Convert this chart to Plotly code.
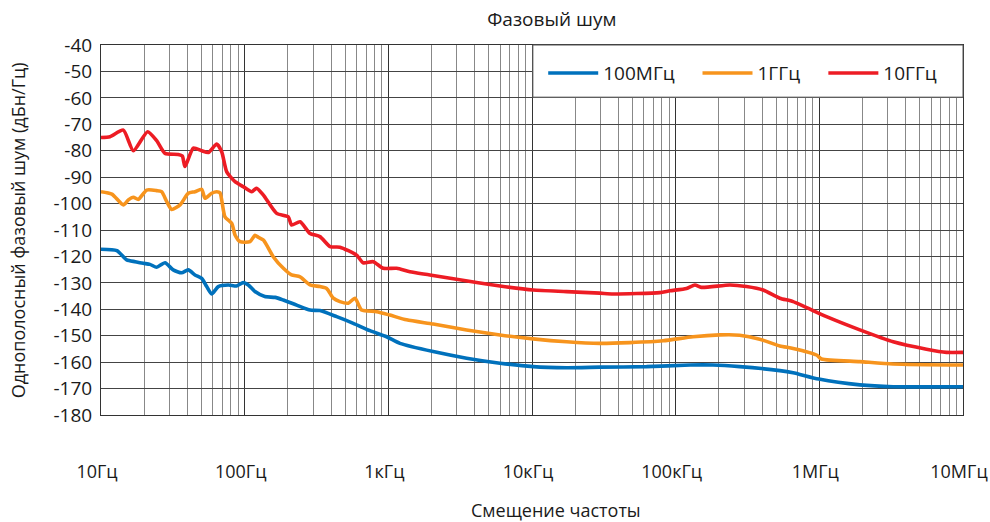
import plotly.graph_objects as go

# ---- data (frequency offset in Hz, SSB phase noise in dBc/Hz) ----
freq_100m = [10, 12.9, 15.1, 17.3, 19.7, 21.9, 24.4, 27.9, 31.8, 36.4, 40.5, 45.1, 50.2, 54.4, 58.9,
             65.5, 76.9, 87.9, 97.8, 106, 118, 138, 163, 186, 230, 285, 334, 437, 570, 745, 973,
             1205, 2052, 3506, 5984, 10190, 17400, 29700, 62700, 126000, 182000, 279000, 531000,
             657000, 991000, 1914000, 3266000, 10000000]
pn_100m = [-117.3, -117.8, -121.3, -122.0, -122.6, -123.0, -124.1, -122.4, -125.1, -126.2, -125.1,
           -127.0, -128.3, -131.4, -134.2, -131.4, -130.8, -131.2, -129.9, -130.8, -133.3, -135.2,
           -135.5, -136.5, -138.4, -140.3, -140.5, -142.8, -145.3, -148.1, -150.4, -152.9, -156.0,
           -158.5, -160.4, -161.7, -162.1, -161.9, -161.7, -161.1, -161.1, -161.7, -163.2, -164.0,
           -166.4, -168.6, -169.3, -169.3]

freq_1g = [10, 11.9, 14.3, 15.5, 16.8, 18.2, 20.8, 24.4, 26.4, 28.7, 31.0, 35.5, 40.5, 45.1, 50.2,
           53.0, 58.9, 63.9, 67.3, 72.9, 81.3, 85.7, 92.7, 109, 118, 124, 135, 158, 186, 212, 243,
           285, 334, 372, 414, 460, 526, 586, 652, 829, 1026, 1340, 2052, 3506, 5984, 10190, 17400,
           29700, 48000, 81800, 132000, 203000, 279000, 385000, 531000, 657000, 957000, 1036000,
           1914000, 3266000, 10000000]
pn_1g = [-95.5, -96.4, -100.5, -98.6, -97.6, -98.4, -94.9, -95.1, -95.5, -99.3, -102.2, -100.5,
         -96.1, -95.5, -94.6, -98.0, -96.1, -95.5, -95.9, -105.0, -107.5, -111.9, -114.4, -114.4,
         -112.0, -112.7, -113.8, -120.1, -124.5, -127.0, -127.7, -130.8, -131.4, -132.1, -135.8,
         -137.1, -137.7, -135.8, -140.3, -140.9, -142.2, -144.0, -145.6, -147.8, -149.7, -151.2,
         -152.3, -152.9, -152.6, -151.9, -150.4, -149.7, -149.8, -151.3, -153.9, -154.8, -157.3,
         -158.8, -159.8, -160.7, -161.1]

freq_10g = [10, 11.55, 14.3, 16.8, 21.1, 24.4, 27.9, 34.5, 36.8, 38.4, 43.9, 50.2, 55.8, 63.9, 69.2,
            75, 85.7, 97.8, 112, 121, 135, 167, 201, 212, 243, 285, 334, 393, 460, 601, 668, 785,
            922, 1143, 1413, 1947, 4117, 5984, 10190, 17400, 29700, 36700, 77600, 91200, 119000,
            136000, 151000, 239000, 311000, 406000, 531000, 657000, 1122000, 1914000, 3266000,
            5572000, 7674000, 10000000]
pn_10g = [-75.0, -74.7, -72.2, -80.0, -72.8, -76.2, -81.0, -81.4, -82.0, -86.0, -79.0, -80.0, -80.7,
          -77.5, -80.4, -88.0, -91.7, -93.6, -95.5, -94.2, -96.8, -103.7, -105.0, -108.1, -106.9,
          -111.3, -112.5, -116.3, -116.5, -119.5, -122.4, -122.0, -124.5, -124.5, -125.8, -127.0,
          -129.9, -131.2, -132.7, -133.3, -133.9, -134.2, -133.7, -133.0, -132.1, -130.8, -131.7,
          -130.8, -131.4, -132.7, -135.8, -137.1, -142.8, -147.8, -152.3, -155.1, -156.3, -156.3]

series_names = ["100МГц", "1ГГц", "10ГГц"]
series_colors = ["#0071BC", "#F7941D", "#ED1C24"]

x_tickvals = [10, 100, 1000, 10000, 100000, 1000000, 10000000]
x_ticktext = ["10Гц", "100Гц", "1кГц", "10кГц", "100кГц", "1МГц", "10МГц"]
y_tickvals = [-40, -50, -60, -70, -80, -90, -100, -110, -120, -130, -140, -150, -160, -170, -180]
y_ticktext = ["-40", "-50", "-60", "-70", "-80", "-90", "-100", "-110", "-120", "-130", "-140",
              "-150", "-160", "-170", "-180"]

title_text = "Фазовый шум"
x_title = "Смещение частоты"
y_title = "Однополосный фазовый шум (дБн/Гц)"

FONT = "Open Sans"
TXT = "#1a1a1a"

# legend layout (paper coordinates)
legend_x = [0.513, 0.692, 0.838]
legend_ids = ["legend", "legend2", "legend3"]

fig = go.Figure()
for xs, ys, name, col, lid in zip([freq_100m, freq_1g, freq_10g], [pn_100m, pn_1g, pn_10g],
                                  series_names, series_colors, legend_ids):
    fig.add_trace(go.Scatter(x=xs, y=ys, mode="lines", name=name, legend=lid,
                             line=dict(color=col, width=3.6, shape="spline", smoothing=0.6)))

legend_common = dict(orientation="h", xanchor="left", y=0.924, yanchor="middle",
                     bgcolor="rgba(0,0,0,0)", borderwidth=0, itemwidth=50,
                     font=dict(family=FONT, size=19, color=TXT))

fig.update_layout(
    width=990, height=522,
    margin=dict(l=101, r=27, t=45, b=107, autoexpand=False),
    paper_bgcolor="white", plot_bgcolor="white",
    font=dict(family=FONT, size=19, color=TXT),
    title=dict(text=title_text, x=0.523, xref="paper", xanchor="center",
               y=1, yref="container", yanchor="top", pad=dict(t=13),
               font=dict(family=FONT, size=19, color=TXT)),
    showlegend=True,
    legend=dict(x=legend_x[0], **legend_common),
    legend2=dict(x=legend_x[1], **legend_common),
    legend3=dict(x=legend_x[2], **legend_common),
    shapes=[dict(type="rect", xref="paper", yref="paper", x0=0.501, x1=1.0, y0=0.859, y1=1.0,
                 fillcolor="white", line=dict(color="#555", width=1), layer="above")],
    annotations=[
        dict(text=x_title, xref="paper", yref="paper", x=0.528, y=-0.257,
             xanchor="center", yanchor="middle", showarrow=False,
             font=dict(family=FONT, size=18, color=TXT)),
        dict(text=y_title, xref="paper", yref="paper", x=-0.096, y=0.5,
             xanchor="center", yanchor="middle", showarrow=False, textangle=-90,
             font=dict(family=FONT, size=18, color=TXT)),
    ],
)

fig.update_xaxes(type="log", range=[0.9999, 7.0001], tickvals=x_tickvals, ticktext=x_ticktext,
                 showgrid=True, gridcolor="#333", gridwidth=1, automargin=False,
                 minor=dict(showgrid=True, gridcolor="#888", gridwidth=1, dtick="D1", ticks=""),
                 ticks="", ticklabelstandoff=40, ticklabelshift=-4, ticklabeloverflow="allow",
                 showline=True, linecolor="#333", linewidth=1, mirror=True,
                 zeroline=False, tickfont=dict(family=FONT, size=18, color=TXT))
fig.update_yaxes(range=[-180, -40], tickvals=y_tickvals, ticktext=y_ticktext,
                 showgrid=True, gridcolor="#444", gridwidth=1, automargin=False,
                 ticks="", ticklabelstandoff=4,
                 showline=True, linecolor="#333", linewidth=1, mirror=True,
                 zeroline=False, tickfont=dict(family=FONT, size=19, color=TXT))

fig.write_html("out.html")
